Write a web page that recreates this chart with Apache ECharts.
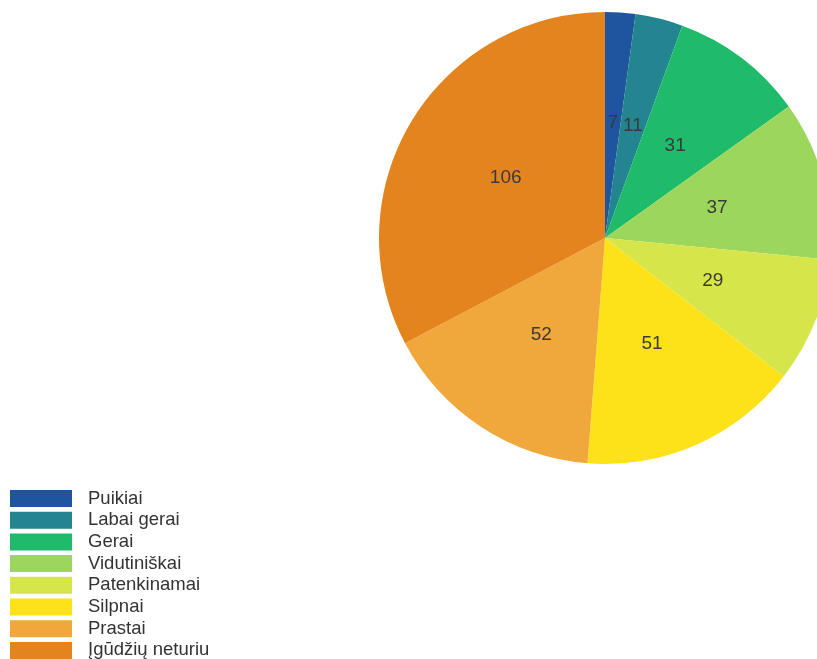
<!DOCTYPE html>
<html>
<head>
<meta charset="utf-8">
<script src="https://cdn.jsdelivr.net/npm/echarts@6/dist/echarts.min.js"></script>
<style>html,body{margin:0;padding:0;background:#fff;}#c{width:817px;height:659px;}</style>
</head>
<body>
<div id="c"></div>
<script>
const categories = ["Puikiai","Labai gerai","Gerai","Vidutiniškai","Patenkinamai","Silpnai","Prastai","Įgūdžių neturiu"];
const values = [7, 11, 31, 37, 29, 51, 52, 106];
const colors = ["#1e559e","#22858f","#1fbb6b","#9dd65c","#d6e64a","#fde21a","#f0a73b","#e4841f"];

const chart = echarts.init(document.getElementById('c'), null, {renderer:'canvas'});
chart.setOption({
  animation: false,
  color: colors,
  legend: {
    orient: 'vertical',
    left: 10,
    top: 489,
    height: 300,
    padding: 0,
    icon: 'rect',
    itemWidth: 62,
    itemHeight: 17,
    itemGap: 2.7,
    selectedMode: false,
    data: categories,
    textStyle: {
      fontFamily: 'Liberation Sans, Arial, sans-serif',
      fontSize: 18.5,
      lineHeight: 17,
      color: '#333',
      padding: [0, 0, 0, 11]
    }
  },
  series: [{
    type: 'pie',
    center: [605, 238],
    radius: [0, 226],
    startAngle: 90,
    clockwise: true,
    avoidLabelOverlap: false,
    label: {
      show: true,
      position: 'inside',
      formatter: '{c}',
      color: '#3a3a3a',
      fontFamily: 'Liberation Sans, Arial, sans-serif',
      fontSize: 19
    },
    labelLine: {show: false},
    itemStyle: {borderWidth: 0},
    emphasis: {disabled: true},
    data: categories.map((n, i) => ({name: n, value: values[i]}))
  }]
});
</script>
</body>
</html>
